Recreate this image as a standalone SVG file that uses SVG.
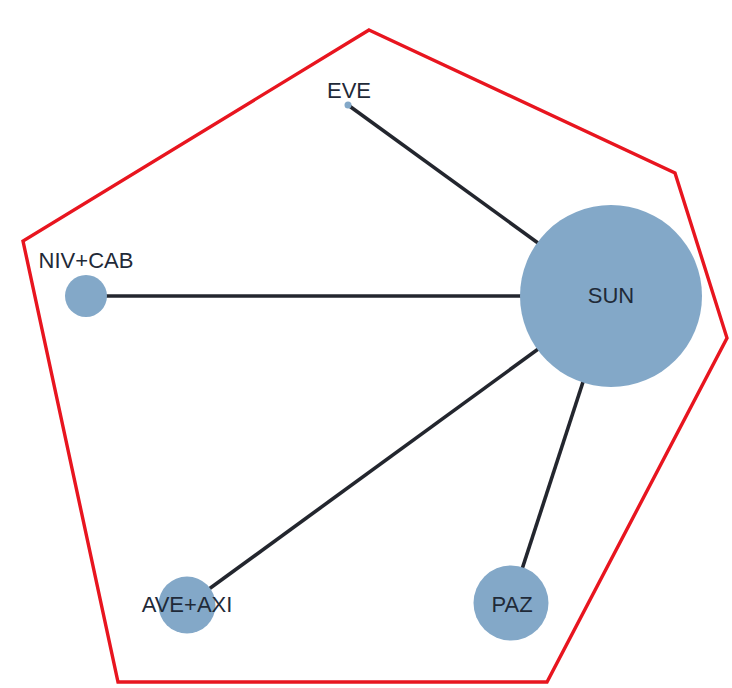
<svg xmlns="http://www.w3.org/2000/svg" width="732" height="688" viewBox="0 0 732 688">
<style>
.node{fill:#83a8c8}
.lbl{font-family:"Liberation Sans",Arial,sans-serif;font-size:22px;fill:#1f2a38;text-anchor:middle}
.edge{stroke:#23262e;stroke-width:3.6;fill:none}
</style>
<rect width="732" height="688" fill="#ffffff"/>
<polygon points="369,30 675,173 727,338 547,682 118,682 23,241" fill="none" stroke="#e8151f" stroke-width="3.4"/>
<g id="connectors">
<line class="edge" x1="348" y1="105" x2="611" y2="296"/>
<line class="edge" x1="87" y1="296" x2="611" y2="296"/>
<line class="edge" x1="187" y1="605" x2="611" y2="296"/>
<line class="edge" x1="511" y1="603" x2="611" y2="296"/>
</g>
<g id="node-SUN"><circle class="node" cx="611" cy="296" r="91"/><text class="lbl" x="611" y="303">SUN</text></g>
<g id="node-EVE"><circle class="node" cx="348" cy="105" r="3.5"/><text class="lbl" x="349" y="98">EVE</text></g>
<g id="node-NIVCAB"><circle class="node" cx="86" cy="296" r="21"/><text class="lbl" x="86" y="268">NIV+CAB</text></g>
<g id="node-AVEAXI"><circle class="node" cx="187" cy="605" r="28.5"/><text class="lbl" x="187" y="612">AVE+AXI</text></g>
<g id="node-PAZ"><circle class="node" cx="511" cy="603" r="37.5"/><text class="lbl" x="512" y="612">PAZ</text></g>
</svg>
